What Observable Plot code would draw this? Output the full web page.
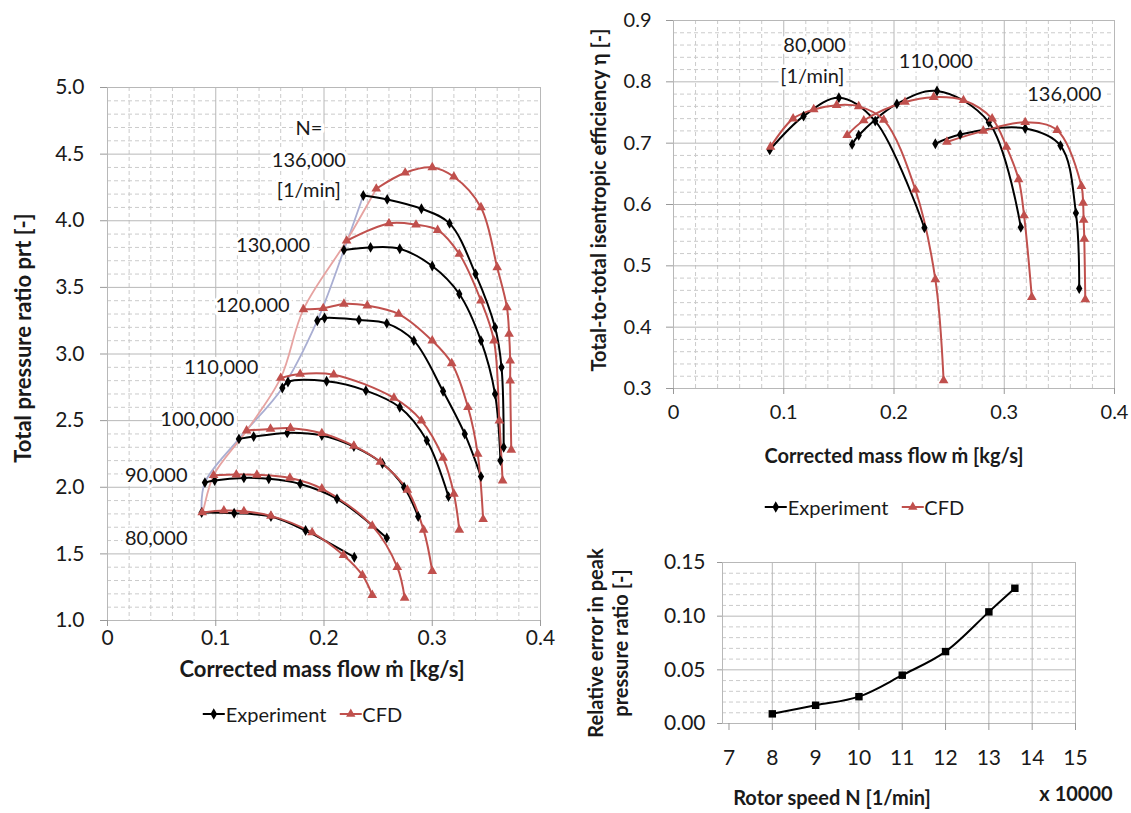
<!DOCTYPE html>
<html><head><meta charset="utf-8">
<script src="https://cdn.jsdelivr.net/npm/d3@7"></script>
<script src="https://cdn.jsdelivr.net/npm/@observablehq/plot@0.6"></script>
<style>
html,body{margin:0;padding:0;background:#fff;}
#root{position:relative;width:1131px;height:813px;overflow:hidden;font-family:Lato,'Open Sans',sans-serif;color:#1a1a1a;}
.panel{position:absolute;}
.t{position:absolute;white-space:nowrap;font-weight:bold;font-size:20px;transform:translate(-50%,-50%);}
.big{font-size:22px;}
.rot{transform:translate(-50%,-50%) rotate(-90deg);}
.leg{position:absolute;display:flex;align-items:center;font-size:20px;white-space:nowrap;transform:translate(-50%,-50%);}
.leg svg{display:block;}
</style></head>
<body><div id="root"></div>
<script>
// ---------- data: pressure ratio map (mass flow [kg/s], pressure ratio) ----------
const speedLabelsPR = ["N=", "136,000", "[1/min]", "130,000", "120,000", "110,000", "100,000", "90,000", "80,000"];
const speedLabelPosPR = [[0.186,4.69],[0.186,4.45],[0.186,4.225],[0.153,3.81],[0.134,3.363],[0.105,2.9],[0.083,2.51],[0.045,2.088],[0.045,1.615]];

const prExp80  = [[0.087,1.81],[0.117,1.805],[0.151,1.78],[0.183,1.675],[0.228,1.475]];
const prCfd80  = [[0.0875,1.81],[0.1075,1.825],[0.126,1.82],[0.151,1.785],[0.189,1.66],[0.218,1.49],[0.2355,1.34],[0.2446,1.19]];
const prExp90  = [[0.09,2.035],[0.099,2.05],[0.126,2.07],[0.149,2.063],[0.178,2.025],[0.212,1.913],[0.258,1.62]];
const prCfd90  = [[0.098,2.09],[0.119,2.095],[0.138,2.093],[0.1685,2.07],[0.198,1.99],[0.2446,1.71],[0.2677,1.40],[0.2745,1.17]];
const prExp100 = [[0.1214,2.363],[0.135,2.38],[0.166,2.408],[0.198,2.388],[0.2276,2.305],[0.254,2.178],[0.274,2.0],[0.287,1.78]];
const prCfd100 = [[0.1285,2.425],[0.1506,2.438],[0.169,2.443],[0.198,2.405],[0.2276,2.31],[0.252,2.19],[0.277,1.98],[0.292,1.68],[0.300,1.37]];
const prExp110 = [[0.1615,2.745],[0.1667,2.79],[0.2024,2.795],[0.2387,2.725],[0.27,2.6],[0.295,2.35],[0.315,1.93]];
const prCfd110 = [[0.16,2.82],[0.178,2.85],[0.209,2.845],[0.2646,2.67],[0.29,2.5],[0.31,2.22],[0.32,1.95],[0.325,1.68]];
const prExp120 = [[0.1938,3.25],[0.2005,3.27],[0.2323,3.256],[0.258,3.23],[0.283,3.1],[0.31,2.72],[0.33,2.4],[0.345,2.08]];
const prCfd120 = [[0.181,3.335],[0.1993,3.343],[0.2184,3.376],[0.24,3.363],[0.269,3.30],[0.3,3.1],[0.318,2.93],[0.333,2.6],[0.342,2.25],[0.347,1.76]];
const prExp130 = [[0.2184,3.78],[0.243,3.80],[0.27,3.79],[0.30,3.66],[0.325,3.45],[0.345,3.1],[0.358,2.7],[0.363,2.2]];
const prCfd130 = [[0.2209,3.85],[0.26,3.98],[0.285,3.97],[0.305,3.93],[0.325,3.75],[0.345,3.4],[0.357,3.1],[0.362,2.5],[0.365,2.05]];
const prExp136 = [[0.2363,4.19],[0.2584,4.16],[0.29,4.09],[0.316,3.98],[0.34,3.6],[0.358,3.2],[0.364,2.9],[0.366,2.3]];
const prCfd136 = [[0.2483,4.24],[0.275,4.36],[0.3,4.4],[0.32,4.33],[0.345,4.1],[0.36,3.65],[0.369,3.35],[0.371,3.15],[0.372,2.95],[0.372,2.8],[0.373,2.28]];

// ---------- data: efficiency (mass flow, eta) ----------
const effLabels = ["80,000", "[1/min]", "110,000", "136,000"];
const effLabelPos = [[0.128,0.859],[0.126,0.809],[0.238,0.833],[0.3545,0.7795]];
const effExp80  = [[0.0873,0.689],[0.118,0.744],[0.15,0.774],[0.183,0.736],[0.2276,0.562]];
const effCfd80  = [[0.088,0.694],[0.1085,0.740],[0.1272,0.755],[0.148,0.762],[0.168,0.760],[0.1907,0.738],[0.2194,0.624],[0.2375,0.478],[0.245,0.313]];
const effExp110 = [[0.162,0.698],[0.168,0.713],[0.2026,0.764],[0.239,0.785],[0.286,0.734],[0.315,0.563]];
const effCfd110 = [[0.1575,0.713],[0.1726,0.737],[0.21,0.767],[0.236,0.775],[0.263,0.770],[0.289,0.74],[0.302,0.694],[0.313,0.641],[0.318,0.582],[0.325,0.449]];
const effExp136 = [[0.2375,0.699],[0.26,0.714],[0.319,0.724],[0.351,0.696],[0.365,0.586],[0.368,0.463]];
const effCfd136 = [[0.248,0.702],[0.281,0.72],[0.319,0.734],[0.348,0.721],[0.37,0.63],[0.3715,0.6025],[0.372,0.575],[0.3726,0.544],[0.3735,0.445]];

// ---------- data: relative error in peak pressure ratio ----------
const rotorSpeed = [8, 9, 10, 11, 12, 13, 13.6];          // x 10000 1/min
const peakError  = [0.009, 0.017, 0.025, 0.045, 0.067, 0.104, 0.126];

// ---------- tick values ----------
const xTicksMass = [0, 0.1, 0.2, 0.3, 0.4];
const yTicksPR   = [1, 1.5, 2, 2.5, 3, 3.5, 4, 4.5, 5];
const yTicksEff  = [0.3, 0.4, 0.5, 0.6, 0.7, 0.8, 0.9];
const xTicksN    = [7, 8, 9, 10, 11, 12, 13, 14, 15];
const yTicksErr  = [0, 0.05, 0.10, 0.15];

// ---------- styling ----------
const RED = "#c0504d", BLACK = "#000";
const MAJ = "#b8b8b8", MIN = "#cbcbcb", DASH = "4,3";
const FONT = "Lato, 'Open Sans', sans-serif";
const root = document.getElementById("root");

function rng(a, b, step) { const out = []; for (let i = 0; a + i*step <= b + 1e-9; i++) out.push(+(a + i*step).toFixed(4)); return out; }
function minors(a, b, step, majorStep) { return rng(a, b, step).filter(v => Math.abs(v/majorStep - Math.round(v/majorStep)) > 1e-6); }
function rows(list) { return list.flatMap(([name, pts]) => pts.map(([x, y]) => ({x, y, name}))); }

function seriesMarks(exp, cfd) {
  return [
    Plot.line(exp, {x:"x", y:"y", z:"name", stroke:BLACK, strokeWidth:2, curve:"catmull-rom"}),
    Plot.line(cfd, {x:"x", y:"y", z:"name", stroke:RED, strokeWidth:2, curve:"catmull-rom"}),
    Plot.dot(exp, {x:"x", y:"y", symbol:"diamond", r:3.3, fill:BLACK, stroke:null}),
    Plot.dot(cfd, {x:"x", y:"y", symbol:"triangle", r:3.6, fill:RED, stroke:null})
  ];
}
function place(svg, left, top) { const d = document.createElement("div"); d.className = "panel"; d.style.left = left+"px"; d.style.top = top+"px"; d.appendChild(svg); root.appendChild(d); }
function addText(txt, x, y, cls) { const d = document.createElement("div"); d.className = cls || "t"; d.style.left = x+"px"; d.style.top = y+"px"; d.textContent = txt; root.appendChild(d); return d; }

// ================= Panel A: pressure ratio =================
{
  const exp = rows([["80",prExp80],["90",prExp90],["100",prExp100],["110",prExp110],["120",prExp120],["130",prExp130],["136",prExp136]]);
  const cfd = rows([["80",prCfd80],["90",prCfd90],["100",prCfd100],["110",prCfd110],["120",prCfd120],["130",prCfd130],["136",prCfd136]]);
  const surgeExp = [prExp80,prExp90,prExp100,prExp110,prExp120,prExp130,prExp136].map(p => ({x:p[0][0], y:p[0][1]}));
  const surgeCfd = [prCfd80[0],prCfd90[0],prCfd100[0],prCfd110[0],prCfd120[0],prCfd130[0],prCfd136[0]].map(p => ({x:p[0], y:p[1]}));
  surgeCfd.unshift({x:prExp80[0][0], y:prExp80[0][1]});
  const labels = speedLabelsPR.map((t, i) => ({t, x:speedLabelPosPR[i][0], y:speedLabelPosPR[i][1]}));
  const svg = Plot.plot({
    width:560, height:700, marginLeft:107, marginRight:20, marginTop:87, marginBottom:80,
    x:{domain:[0,0.4]}, y:{domain:[1,5]},
    style:{fontFamily:FONT, fontSize:"20px", color:"#1a1a1a", background:"transparent", overflow:"visible"},
    marks:[
      Plot.ruleX(minors(0,0.4,0.02,0.1), {stroke:MIN, strokeDasharray:DASH}),
      Plot.ruleY(minors(1,5,0.1,0.5), {stroke:MIN, strokeDasharray:DASH}),
      Plot.ruleX(xTicksMass, {stroke:MAJ}),
      Plot.ruleY(yTicksPR, {stroke:MAJ}),
      Plot.axisY(yTicksPR, {tickFormat:d3.format(".1f"), tickSize:7, tickPadding:16, stroke:"#999", fontSize:21, label:null}),
      Plot.axisX(xTicksMass, {tickFormat:d => d === 0 ? "0" : d3.format(".1f")(d), tickSize:6, tickPadding:4, stroke:"#999", fontSize:21, label:null}),
      Plot.line(surgeExp, {x:"x", y:"y", stroke:"#a9aed2", strokeWidth:1.8, curve:"catmull-rom"}),
      Plot.line(surgeCfd, {x:"x", y:"y", stroke:"#e6a3a1", strokeWidth:1.8, curve:"catmull-rom"}),
      ...seriesMarks(exp, cfd),
      Plot.text(labels, {x:"x", y:"y", text:"t", fontSize:20, fill:"#1a1a1a", stroke:"white", strokeWidth:7, paintOrder:"stroke"})
    ]
  });
  place(svg, 0, 0);
}

// ================= Panel B: efficiency =================
{
  const exp = rows([["80",effExp80],["110",effExp110],["136",effExp136]]);
  const cfd = rows([["80",effCfd80],["110",effCfd110],["136",effCfd136]]);
  const labels = effLabels.map((t, i) => ({t, x:effLabelPos[i][0], y:effLabelPos[i][1]}));
  const svg = Plot.plot({
    width:571, height:440, marginLeft:113, marginRight:17, marginTop:20, marginBottom:52,
    x:{domain:[0,0.4]}, y:{domain:[0.3,0.9]},
    style:{fontFamily:FONT, fontSize:"20px", color:"#1a1a1a", background:"transparent", overflow:"visible"},
    marks:[
      Plot.ruleX(minors(0,0.4,0.02,0.1), {stroke:MIN, strokeDasharray:DASH}),
      Plot.ruleY(minors(0.3,0.9,0.02,0.1), {stroke:MIN, strokeDasharray:DASH}),
      Plot.ruleX(xTicksMass, {stroke:MAJ}),
      Plot.ruleY(yTicksEff, {stroke:MAJ}),
      Plot.axisY(yTicksEff, {tickFormat:d3.format(".1f"), tickSize:7, tickPadding:15, stroke:"#999", fontSize:20, label:null}),
      Plot.axisX(xTicksMass, {tickFormat:d => d === 0 ? "0" : d3.format(".1f")(d), tickSize:6, tickPadding:10, stroke:"#999", fontSize:20, label:null}),
      ...seriesMarks(exp, cfd),
      Plot.text(labels, {x:"x", y:"y", text:"t", fontSize:20, fill:"#1a1a1a", stroke:"white", strokeWidth:7, paintOrder:"stroke"})
    ]
  });
  place(svg, 560, 0);
}

// ================= Panel C: peak error =================
{
  const pts = rotorSpeed.map((n, i) => ({n, e:peakError[i]}));
  const svg = Plot.plot({
    width:471, height:230, marginLeft:62, marginRight:56, marginTop:22, marginBottom:47,
    x:{domain:[6.85,15]}, y:{domain:[0,0.15]},
    style:{fontFamily:FONT, fontSize:"21px", color:"#1a1a1a", background:"transparent", overflow:"visible"},
    marks:[
      Plot.ruleY(minors(0,0.15,0.01,0.05), {stroke:MIN, strokeDasharray:DASH}),
      Plot.ruleX(xTicksN.slice(1), {stroke:MAJ}),
      Plot.ruleY(yTicksErr, {stroke:MAJ}),
      Plot.ruleX([6.85], {stroke:MAJ}),
      Plot.axisY(yTicksErr, {tickFormat:d3.format(".2f"), tickSize:5, tickPadding:12, stroke:"#999", fontSize:21, label:null}),
      Plot.axisX(xTicksN, {tickSize:7, tickPadding:20, stroke:"#999", fontSize:21, label:null}),
      Plot.line(pts, {x:"n", y:"e", stroke:BLACK, strokeWidth:2, curve:"catmull-rom"}),
      Plot.dot(pts, {x:"n", y:"e", symbol:"square", r:4.2, fill:BLACK, stroke:null})
    ]
  });
  place(svg, 660, 540);
}

// ================= Titles & legends =================
addText("Total pressure ratio prt [-]", 22, 338, "t big rot");
addText("Corrected mass flow ṁ [kg/s]", 322, 668, "t big");
addText("Total-to-total isentropic efficiency η [-]", 598, 200, "t rot");
addText("Corrected mass flow ṁ [kg/s]", 894, 455);
addText("Relative error in peak", 595, 643, "t rot");
addText("pressure ratio [-]", 620, 643, "t rot");
addText("Rotor speed N [1/min]", 832, 797);
addText("x 10000", 1076, 793);

function legend(cx, cy) {
  const d = document.createElement("div"); d.className = "leg"; d.style.left = cx+"px"; d.style.top = cy+"px";
  const item = (color, sym, label) => {
    const s = d3.create("svg").attr("width", 24).attr("height", 14);
    s.append("line").attr("x1",1).attr("x2",23).attr("y1",7).attr("y2",7).attr("stroke",color).attr("stroke-width",2);
    s.append("path").attr("transform","translate(12,7)").attr("fill",color).attr("d", d3.symbol(sym, 38)());
    d.appendChild(s.node());
    const sp = document.createElement("span"); sp.textContent = label; sp.style.marginRight = "12px"; d.appendChild(sp);
  };
  item(BLACK, d3.symbolDiamond, "Experiment");
  item(RED, d3.symbolTriangle, "CFD");
  root.appendChild(d);
}
legend(308, 714);
legend(870, 507);
</script></body></html>
